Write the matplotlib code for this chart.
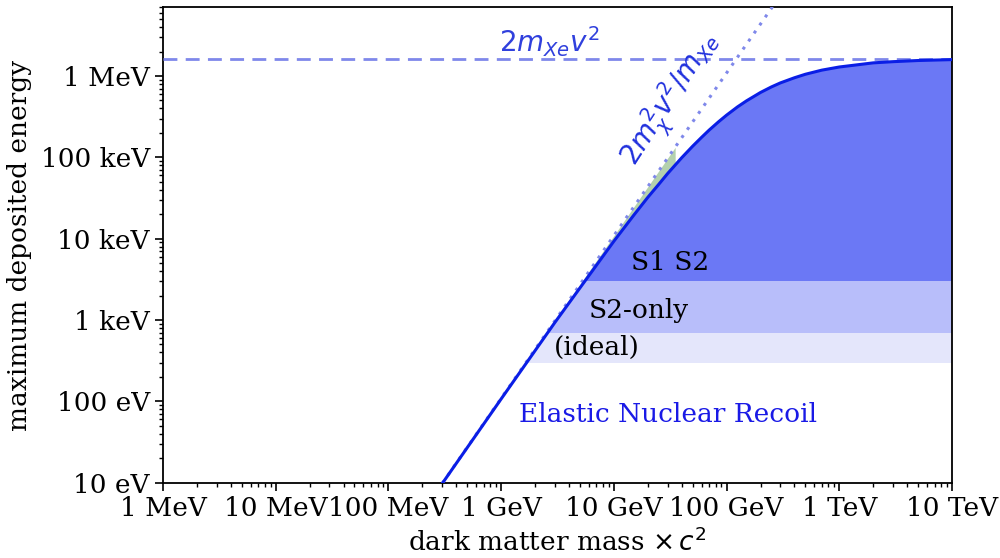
import matplotlib
matplotlib.use("Agg")
import matplotlib.pyplot as plt
import numpy as np

# maximum recoil energy (mass in GeV, energy in eV)
mass_gev = [0.25, 0.3, 1, 3, 10, 15, 20, 25, 30, 40, 50, 60, 70, 85, 100, 125,
            150, 200, 250, 300, 400, 500, 700, 1000, 2000, 3000, 5000, 10000]
e_max_ev = [6.8, 9.75, 107, 934, 9.3e3, 1.94e4, 3.22e4, 4.65e4, 6.32e4, 9.89e4,
            1.37e5, 1.76e5, 2.16e5, 2.74e5, 3.30e5, 4.17e5, 4.94e5, 6.27e5,
            7.34e5, 8.22e5, 9.51e5, 1.05e6, 1.18e6, 1.29e6, 1.45e6, 1.50e6,
            1.55e6, 1.59e6]

# light-mass asymptote (dotted) and heavy-mass asymptote (dashed)
asym_mass_gev = [0.3, 300]
asym_e_ev = [9.8, 9.8e6]
plateau_ev = 1.63e6

# thresholds: ideal, S2-only, S1 S2
band_low_ev = [300, 700, 3000]
band_high_ev = [700, 3000, 1e8]
band_colors = ["#e4e6fb", "#b8befa", "#6b78f5"]

# greenish overlay between curve and dotted asymptote
green_mass_gev = [2, 5, 10, 20, 35]
green_low_ev = [430, 2.6e3, 9.3e3, 3.22e4, 8.2e4]
green_high_ev = [440, 2.75e3, 1.09e4, 4.36e4, 1.33e5]

xticks = [1e-3, 1e-2, 1e-1, 1, 10, 100, 1e3, 1e4]
xticklabels = ["1 MeV", "10 MeV", "100 MeV", "1 GeV", "10 GeV", "100 GeV",
               "1 TeV", "10 TeV"]
yticks = [10, 100, 1e3, 1e4, 1e5, 1e6]
yticklabels = ["10 eV", "100 eV", "1 keV", "10 keV", "100 keV", "1 MeV"]

SIZE = 19
plt.rc("font", family="DejaVu Serif", size=SIZE)
plt.rc("mathtext", fontset="dejavusans")

fig = plt.figure(figsize=(10, 5.58), dpi=100)
ax = fig.add_axes([0.163, 0.135, 0.789, 0.852])
ax.set_xscale("log")
ax.set_yscale("log")
ax.set_xlim(1e-3, 1e4)
ax.set_ylim(10, 7e6)

# region under the curve, used to clip the bands
under = ax.fill_between(mass_gev, 1, e_max_ev, color="none", lw=0)
clip = under.get_paths()[0]
for lo, hi, col in zip(band_low_ev, band_high_ev, band_colors):
    span = ax.axhspan(lo, hi, color=col, lw=0, zorder=1)
    span.set_clip_path(clip, ax.transData)

ax.fill_between(green_mass_gev, green_low_ev, green_high_ev, color="#5a9a4a",
                alpha=0.45, lw=0, zorder=2)

ax.axhline(plateau_ev, color="#7f88ea", ls=(0, (5, 3)), lw=2, zorder=3)
ax.plot(asym_mass_gev, asym_e_ev, color="#7f88ea", ls=(0, (1, 2.2)), lw=2.2,
        zorder=3)
ax.plot(mass_gev, e_max_ev, color="#0a1ee6", lw=2.2, zorder=4)

ax.text(31.6, 5.15e3, "S1 S2", ha="center", va="center", zorder=5)
ax.text(16.7, 1.32e3, "S2-only", ha="center", va="center", zorder=5)
ax.text(7.1, 465, "(ideal)", ha="center", va="center", zorder=5)
ax.text(30, 68, "Elastic Nuclear Recoil", color="#1a1ae6", ha="center",
        va="center", zorder=5)
ax.text(2.66, 2.62e6, r"$2m_{Xe}v^2$", color="#3040dd", ha="center",
        va="center", fontsize=20, zorder=5)
ax.text(32, 5.1e5, r"$2m_\chi^2v^2/m_{Xe}$", color="#2030dd", ha="center",
        va="center", rotation=57, rotation_mode="anchor", fontsize=20,
        zorder=5)

ax.set_xticks(xticks)
ax.set_xticklabels(xticklabels)
ax.set_yticks(yticks)
ax.set_yticklabels(yticklabels)
ax.tick_params(which="major", length=6, width=1.2)
ax.tick_params(which="minor", length=3, width=1)
for s in ax.spines.values():
    s.set_linewidth(1.3)
ax.set_xlabel(r"dark matter mass $\times\,c^2$", labelpad=5)
ax.set_ylabel("maximum deposited energy", labelpad=6)

plt.savefig("out.png", dpi=100)
